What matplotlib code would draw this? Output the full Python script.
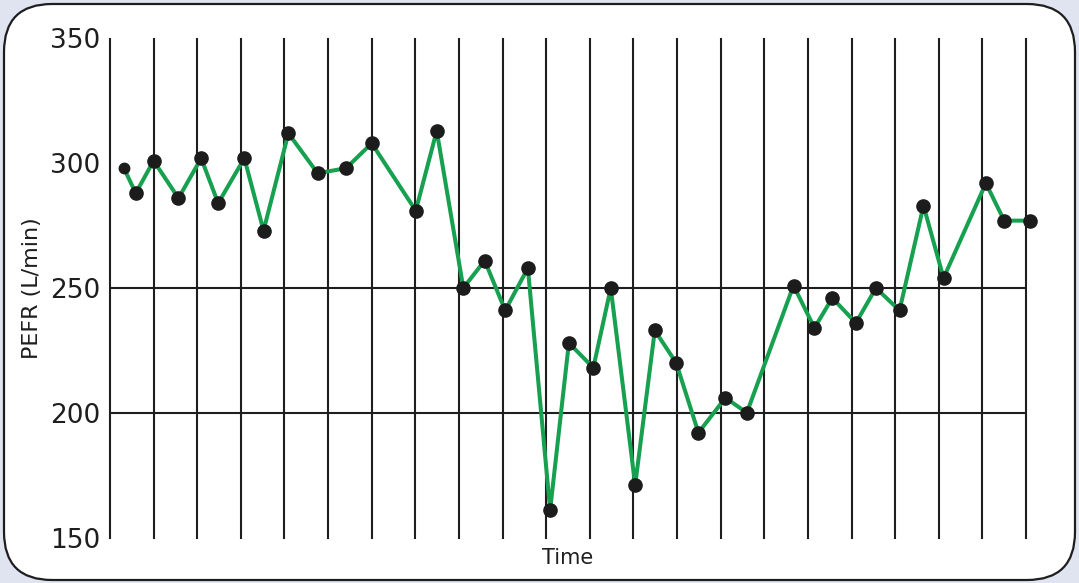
import matplotlib
matplotlib.use("Agg")
import matplotlib.pyplot as plt
from matplotlib.patches import FancyBboxPatch
from matplotlib.transforms import IdentityTransform

# Data (time in grid-column units, PEFR in L/min)
time = [0.32, 0.59, 1.00, 1.57, 2.09, 2.48, 3.08, 3.52, 4.09, 4.76,
        5.41, 6.00, 7.01, 7.49, 8.10, 8.59, 9.06, 9.58, 10.09, 10.52,
        11.08, 11.48, 12.04, 12.49, 12.98, 13.49, 14.11, 14.60, 15.67, 16.15,
        16.56, 17.10, 17.56, 18.10, 18.65, 19.11, 20.08, 20.50, 21.09]
pefr = [298, 288, 301, 286, 302, 284, 302, 273, 312, 296,
        298, 308, 281, 313, 250, 261, 241, 258, 161, 228,
        218, 250, 171, 233, 220, 192, 206, 200, 251, 234,
        246, 236, 250, 241, 283, 254, 292, 277, 277]
yticks = [150, 200, 250, 300, 350]
hlines = [200, 250]
n_columns = 21

W, H = 1079, 583
fig = plt.figure(figsize=(W / 100, H / 100), dpi=100)
fig.patch.set_facecolor("#dfe4f0")

# rounded white panel
panel = FancyBboxPatch((4, 3), 1071, 576,
                       boxstyle="round,pad=0,rounding_size=48",
                       transform=IdentityTransform(),
                       facecolor="white", edgecolor="#1e1e1e", linewidth=1.6,
                       zorder=-5)
fig.patches.append(panel)

ax = fig.add_axes([110 / W, 1 - 537.5 / H, (1026 - 110) / W, (537.5 - 38.5) / H])
ax.set_facecolor("none")
for s in ax.spines.values():
    s.set_visible(False)

ax.set_xlim(0, n_columns)
ax.set_ylim(150, 350)
ax.set_xticks(range(n_columns + 1))
ax.set_xticklabels([])
ax.tick_params(axis="x", length=0)
ax.xaxis.grid(True, color="#1e1e1e", linewidth=1.5)
ax.set_axisbelow(True)
for g in ax.get_xgridlines():
    g.set_clip_on(False)

ax.set_yticks(yticks)
ax.set_yticklabels([str(v) for v in yticks], fontsize=19, color="#1e1e1e")
ax.tick_params(axis="y", length=0, pad=7)
for v in hlines:
    ax.axhline(v, color="#1e1e1e", linewidth=1.5, zorder=1)

ax.plot(time, pefr, color="#17a04f", linewidth=2.9, zorder=3,
        solid_joinstyle="miter", clip_on=False)
ax.plot(time[:1], pefr[:1], "o", color="#1c1c1c", markersize=7.5, zorder=4, clip_on=False)
ax.plot(time[1:], pefr[1:], "o", color="#1c1c1c", markersize=9.5, zorder=4, clip_on=False)

ax.set_ylabel("PEFR (L/min)", fontsize=16, color="#1e1e1e", labelpad=6)
ax.set_xlabel("Time", fontsize=15, color="#1e1e1e", labelpad=4)

fig.savefig("out.png", dpi=100, facecolor=fig.get_facecolor())
